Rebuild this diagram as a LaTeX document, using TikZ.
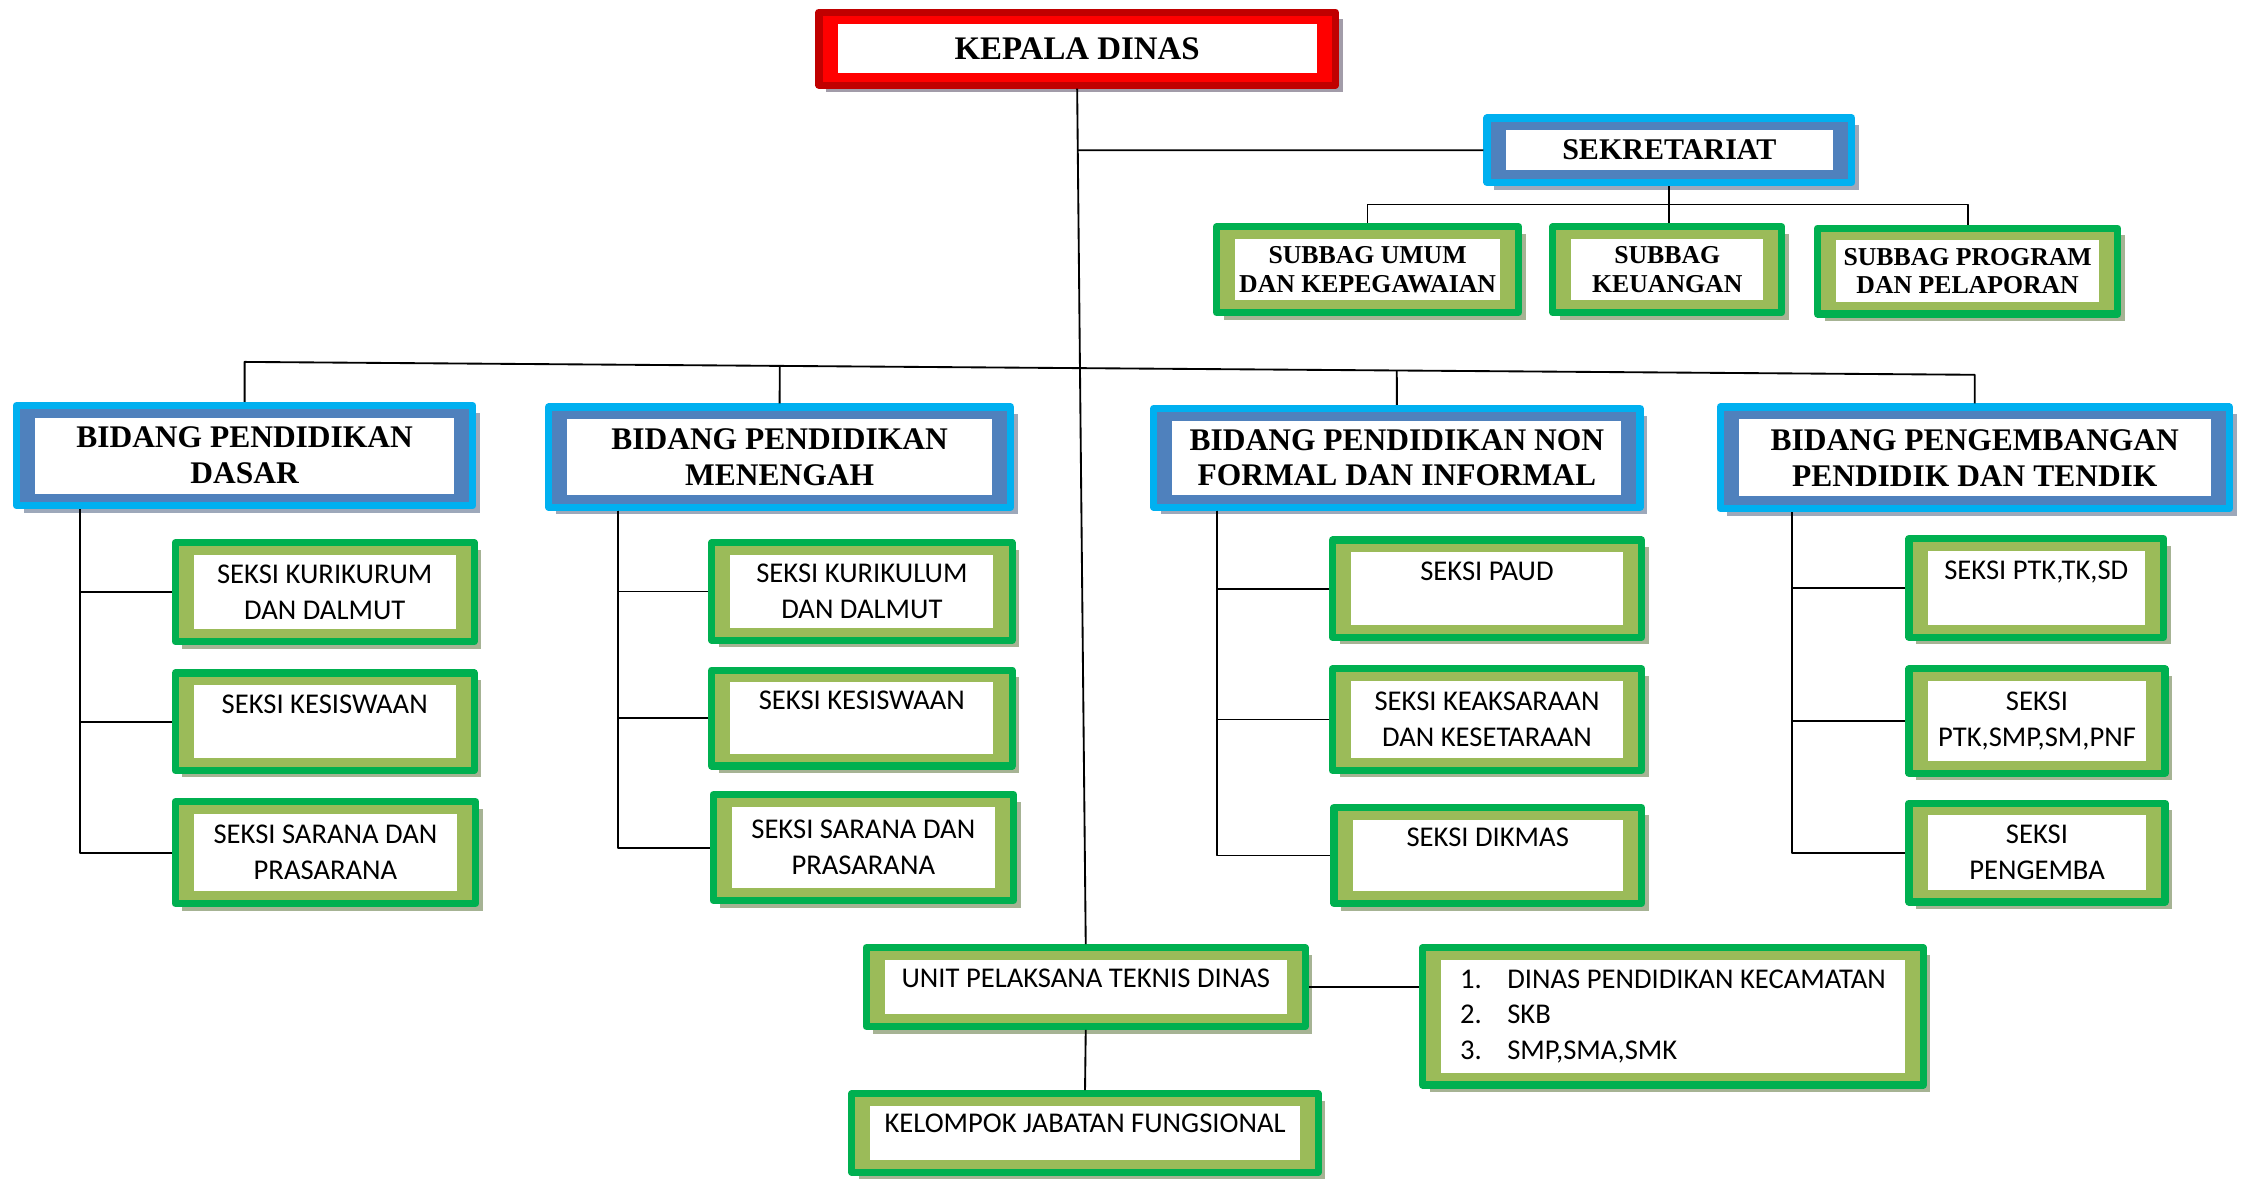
\documentclass[tikz,border=0pt]{standalone}
\usepackage{fontspec}
\setmainfont{Liberation Serif}
\newfontfamily\calibri{Carlito}
\usetikzlibrary{calc,shadows}

\definecolor{merahtua}{HTML}{C00000}
\definecolor{merahmuda}{HTML}{FF0000}
\definecolor{bayangmerah}{HTML}{A29CA9}
\definecolor{birumuda}{HTML}{00B0F0}
\definecolor{birutua}{HTML}{4F81BD}
\definecolor{bayangbiru}{HTML}{9DA8BA}
\definecolor{hijautua}{HTML}{00B050}
\definecolor{hijaumuda}{HTML}{9BBB59}
\definecolor{bayanghijau}{HTML}{A6B394}

\tikzset{
  kotak/.style n args={3}{rectangle, draw=#1, fill=#2, line width=5pt, inner sep=0pt, align=center,
    drop shadow={shadow xshift=5pt, shadow yshift=-5pt, fill=#3, opacity=1},
    path picture={\fill[white] ([xshift=13pt,yshift=-8.5pt]path picture bounding box.north west)
      rectangle ([xshift=-13pt,yshift=8.5pt]path picture bounding box.south east);}},
  merah/.style={kotak={merahtua}{merahmuda}{bayangmerah}, font=\bfseries\fontsize{23}{27}\selectfont},
  biru/.style={kotak={birumuda}{birutua}{bayangbiru}, font=\bfseries\fontsize{22}{25}\selectfont},
  hijau/.style={kotak={hijautua}{hijaumuda}{bayanghijau}},
  subbag/.style={hijau, font=\bfseries\fontsize{18}{20}\selectfont},
  seksi/.style={hijau, font=\calibri\fontsize{20}{25}\selectfont},
  garis/.style={line width=1.3pt}
}

\begin{document}
\begin{tikzpicture}[x=1pt, y=-1pt, line join=round]
		\useasboundingbox (0,0) rectangle (1568,824);
		% pimpinan dan sekretariat
		\node[merah, minimum width=361, minimum height=51] (kepala) at (753,34) {KEPALA DINAS};
		\node[biru, minimum width=255, minimum height=45, font=\bfseries\fontsize{21}{25}\selectfont] (sekr) at (1167,105) {SEKRETARIAT};
		\node[subbag, minimum width=211, minimum height=60] (umum) at (956,188.5) {SUBBAG UMUM\\DAN KEPEGAWAIAN};
		\node[subbag, minimum width=160, minimum height=60] (keu) at (1165.5,188.5) {SUBBAG\\KEUANGAN};
		\node[subbag, minimum width=210, minimum height=60] (program) at (1375.5,189.5) {SUBBAG PROGRAM\\DAN PELAPORAN};
		% bidang
		\node[biru, minimum width=319, minimum height=70] (dasar) at (171,318.5) {BIDANG PENDIDIKAN\\DASAR};
		\node[biru, minimum width=323, minimum height=70] (menengah) at (545,319.5) {BIDANG PENDIDIKAN\\MENENGAH};
		\node[biru, minimum width=340, minimum height=69] (nonformal) at (976.5,320) {BIDANG PENDIDIKAN NON\\FORMAL DAN INFORMAL};
		\node[biru, minimum width=356, minimum height=71] (ptk) at (1380.5,320) {BIDANG PENGEMBANGAN\\PENDIDIK DAN TENDIK};
		% seksi
		\node[seksi, minimum width=209, minimum height=69] (sd1) at (227,414) {SEKSI KURIKURUM\\DAN DALMUT};
		\node[seksi, minimum width=209, minimum height=68] (sd2) at (227,504.5) {SEKSI KESISWAAN\\~};
		\node[seksi, minimum width=210, minimum height=71] (sd3) at (227.5,596) {SEKSI SARANA DAN\\PRASARANA};
		\node[seksi, minimum width=210, minimum height=68] (sm1) at (602.5,413.5) {SEKSI KURIKULUM\\DAN DALMUT};
		\node[seksi, minimum width=210, minimum height=67] (sm2) at (602.5,502) {SEKSI KESISWAAN\\~};
		\node[seksi, minimum width=210, minimum height=74] (sm3) at (603.5,592.5) {SEKSI SARANA DAN\\PRASARANA};
		\node[seksi, minimum width=216, minimum height=68] (nf1) at (1039.5,411.5) {SEKSI PAUD\\~};
		\node[seksi, minimum width=216, minimum height=71] (nf2) at (1039.5,503) {SEKSI KEAKSARAAN\\DAN KESETARAAN};
		\node[seksi, minimum width=215, minimum height=67] (nf3) at (1040,598) {SEKSI DIKMAS\\~};
		\node[seksi, minimum width=178, minimum height=69] (pk1) at (1423.5,411) {SEKSI PTK,TK,SD\\~};
		\node[seksi, minimum width=179, minimum height=73] (pk2) at (1424,504) {SEKSI\\PTK,SMP,SM,PNF};
		\node[seksi, minimum width=179, minimum height=69] (pk3) at (1424,596) {SEKSI\\PENGEMBA};
		% upt dan fungsional
		\node[seksi, minimum width=307, minimum height=55] (upt) at (759,690) {UNIT PELAKSANA TEKNIS DINAS\\[-13pt]~};
		\node[seksi, minimum width=350, minimum height=96, align=left] (daftar) at (1169.5,710.5)
			{\makebox[33pt][l]{1.}DINAS PENDIDIKAN KECAMATAN\\\makebox[33pt][l]{2.}SKB\\\makebox[33pt][l]{3.}SMP,SMA,SMK};
		\node[seksi, minimum width=326, minimum height=55] (kjf) at (758.5,792) {KELOMPOK JABATAN FUNGSIONAL\\[-12pt]~};
		% garis
		\draw[garis] (kepala.south) -- (upt.north);
		\draw[garis] (intersection of kepala.south--upt.north and sekr.west--sekr.east) -- (sekr.west);
		\coordinate (bus) at (0,143);
		\draw[garis] (sekr.south) -- (sekr.south |- keu.north);
		\draw[garis] (umum.north) |- (program.north |- bus) -- (program.north);
		\coordinate (barL) at ($(dasar.north)+(0,-28)$);
		\coordinate (barR) at ($(ptk.north)+(0,-20)$);
		\draw[garis] (dasar.north) -- (barL) -- (barR) -- (ptk.north);
		\foreach \b in {menengah,nonformal}
			\draw[garis] (\b.north) -- (intersection of barL--barR and \b.north--\b.center);
		\coordinate (kd) at ($(dasar.south west)+(47,0)$);
		\coordinate (km) at ($(menengah.south west)+(51,0)$);
		\coordinate (kn) at ($(nonformal.south west)+(47,0)$);
		\coordinate (kp) at ($(ptk.south west)+(53,0)$);
		\foreach \i in {1,2,3} {
			\draw[garis] (kd) |- (sd\i.west);
			\draw[garis] (km) |- (sm\i.west);
			\draw[garis] (kn) |- (nf\i.west);
			\draw[garis] (kp) |- (pk\i.west);
		}
		\draw[garis] (upt.east) -- (upt.east -| daftar.west);
		\draw[garis] (upt.south) -- (kjf.north);
	\end{tikzpicture}
\end{document}
